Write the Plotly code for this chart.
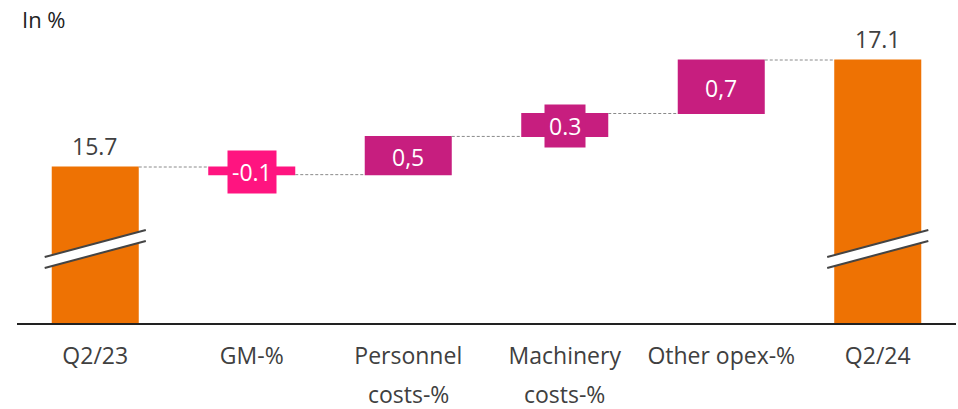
import numpy as np
import plotly.graph_objects as go

# ---- data ----
categories = ["Q2/23", "GM-%", "Personnel costs-%", "Machinery costs-%", "Other opex-%", "Q2/24"]
tick_line1 = ["Q2/23", "GM-%", "Personnel", "Machinery", "Other opex-%", "Q2/24"]
tick_line2 = ["", "", "costs-%", "costs-%", "", ""]
values = [15.7, -0.1, 0.5, 0.3, 0.7, 17.1]
measures = ["absolute", "relative", "relative", "relative", "relative", "total"]
labels = ["15.7", "-0.1", "0,5", "0.3", "0,7", "17.1"]

ORANGE = "#EE7203"
PINK = "#FF1480"
MAGENTA = "#C71E7F"
TXT = "#404040"
FONT = "Open Sans"
FS = 23

fig = go.Figure(go.Waterfall(
    x=categories, y=values, measure=measures,
    base=0,
    textinfo="none",
    width=0.556,
    increasing=dict(marker=dict(color=MAGENTA, line=dict(width=0))),
    decreasing=dict(marker=dict(color=PINK, line=dict(width=0))),
    totals=dict(marker=dict(color=ORANGE, line=dict(width=0))),
    connector=dict(mode="between", line=dict(color="#8a8a8a", width=1, dash="3px,2px")),
    hoverinfo="skip",
))

# cumulative levels for label placement
cum = []
run = 0.0
for m, v in zip(measures, values):
    if m == "absolute":
        start, run = 0.0, v
    elif m == "total":
        start = 0.0
    else:
        start, run = run, run + v
    cum.append((start, run))

annotations = []
for i, (cat, m, lab) in enumerate(zip(categories, measures, labels)):
    s, e = cum[i]
    if m in ("absolute", "total"):
        annotations.append(dict(x=cat, y=e, text=lab, showarrow=False, yanchor="bottom",
                                yshift=3, font=dict(family=FONT, size=FS, color=TXT)))
    else:
        small = abs(values[i]) < 0.4
        col = PINK if values[i] < 0 else MAGENTA
        annotations.append(dict(x=cat, y=(s + e) / 2, text=lab, showarrow=False, yshift=-1,
                                font=dict(family=FONT, size=FS, color="white"),
                                bgcolor=col if small else None,
                                borderpad=4, height=34 if small else None))

# second lines of tick labels
for cat, l2 in zip(categories, tick_line2):
    if l2:
        annotations.append(dict(x=cat, y=0, yref="paper", text=l2, showarrow=False,
                                yanchor="top", yshift=-53,
                                font=dict(family=FONT, size=FS, color=TXT)))

annotations.append(dict(x=0, y=1, xref="paper", yref="paper", text="In %", showarrow=False,
                        xanchor="left", yanchor="top", xshift=3, yshift=-2,
                        font=dict(family=FONT, size=22, color="#222")))

# axis break markers on total bars
shapes = []
dx = 0.323
for idx in (0, 5):
    xl, xr = idx - dx, idx + dx
    shapes.append(dict(type="path", xref="x", yref="y",
                       path=f"M{xl},14.522 L{xr},14.876 L{xr},14.732 L{xl},14.379 Z",
                       fillcolor="white", line=dict(width=0), layer="above"))
    shapes.append(dict(type="line", xref="x", yref="y", x0=xl, y0=14.522, x1=xr, y1=14.876,
                       line=dict(color="#444", width=2), layer="above"))
    shapes.append(dict(type="line", xref="x", yref="y", x0=xl, y0=14.379, x1=xr, y1=14.732,
                       line=dict(color="#444", width=2), layer="above"))

fig.update_layout(
    width=958, height=409,
    margin=dict(l=17, r=2, t=0, b=86),
    plot_bgcolor="white", paper_bgcolor="white",
    showlegend=False,
    annotations=annotations,
    shapes=shapes,
    font=dict(family=FONT, color=TXT),
    xaxis=dict(showline=True, linecolor="#222", linewidth=2, showgrid=False,
               tickmode="array", tickvals=categories, ticktext=tick_line1,
               tickfont=dict(family=FONT, size=FS, color=TXT), ticks="",
               ticklabelstandoff=11),
    yaxis=dict(range=[13.659, 17.885], visible=False, showgrid=False, zeroline=False),
)

fig.write_html("out.html")
